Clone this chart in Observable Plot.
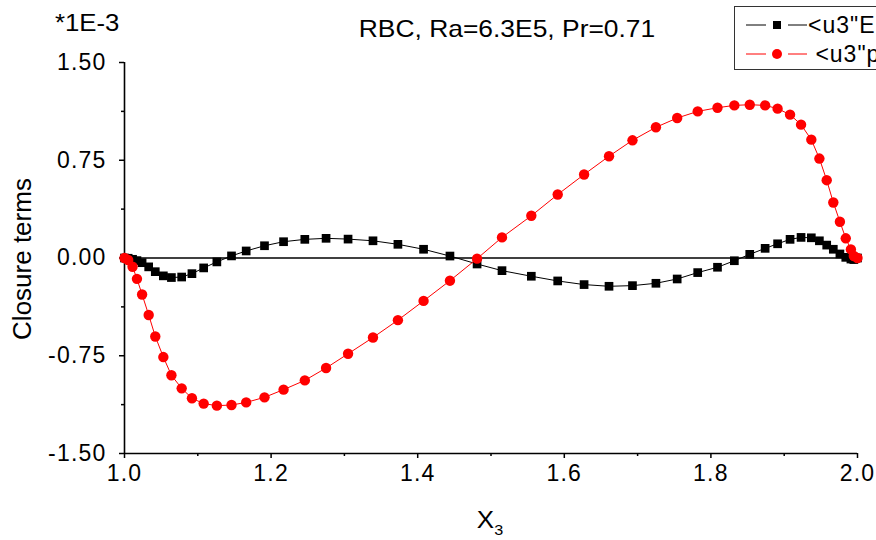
<!DOCTYPE html>
<html><head><meta charset="utf-8">
<script src="https://cdn.jsdelivr.net/npm/d3@7"></script>
<script src="https://cdn.jsdelivr.net/npm/@observablehq/plot@0.6"></script>
<style>
html,body{margin:0;padding:0;background:#fff;}
#wrap{position:relative;width:876px;height:540px;overflow:hidden;font-family:"Liberation Sans",Arial,sans-serif;color:#000;}
#chart{position:absolute;left:0;top:0;}
.ov{position:absolute;white-space:nowrap;line-height:1;}
#legend{position:absolute;left:734px;top:6px;width:220px;height:62px;border:1.5px solid #333;background:#fff;}
</style></head><body>
<div id="wrap">
  <div id="chart"></div>
  <div class="ov" id="mult" style="left:55px;top:12px;font-size:23px;transform-origin:left center;transform:scaleX(1.12);">*1E-3</div>
  <div class="ov" id="title" style="left:507px;top:17px;font-size:24px;transform:translateX(-50%) scaleX(1.1);"></div>
  <div class="ov" id="xlab" style="left:490px;top:508px;font-size:24px;transform:translateX(-50%) scaleX(1.08);">X<sub style="font-size:15px;vertical-align:-7px;">3</sub></div>
  <div class="ov" id="ylab" style="left:22px;top:259px;font-size:26px;transform:translate(-50%,-50%) rotate(-90deg);">Closure terms</div>
  <div id="legend"></div>
</div>
<script>
const chartTitle = "RBC, Ra=6.3E5, Pr=0.71";
const seriesNames = ['<u3"E', ' <u3"p'];
const seriesColors = ["#000000", "#ff0000"];

const x3 = [1.000, 1.005, 1.011, 1.017, 1.024, 1.033, 1.042, 1.053, 1.064, 1.078,
            1.092, 1.108, 1.126, 1.146, 1.166, 1.191, 1.217, 1.246, 1.275, 1.305,
            1.339, 1.373, 1.408, 1.444, 1.481, 1.515, 1.555, 1.591, 1.627, 1.661,
            1.693, 1.725, 1.754, 1.782, 1.809, 1.832, 1.853, 1.874, 1.891, 1.908,
            1.923, 1.937, 1.948, 1.958, 1.967, 1.976, 1.984, 1.991, 1.995, 2.000];

const eTerm = [0, -0.002, -0.010, -0.020, -0.036, -0.068, -0.105, -0.137, -0.150, -0.146,
               -0.120, -0.076, -0.030, 0.016, 0.054, 0.094, 0.125, 0.143, 0.151, 0.145,
               0.132, 0.105, 0.067, 0.015, -0.046, -0.097, -0.140, -0.176, -0.204, -0.217,
               -0.212, -0.194, -0.161, -0.112, -0.071, -0.021, 0.028, 0.074, 0.109, 0.143,
               0.158, 0.155, 0.132, 0.099, 0.067, 0.031, 0.005, -0.008, -0.012, 0];

const pTerm = [0, -0.015, -0.067, -0.160, -0.280, -0.437, -0.602, -0.760, -0.900, -1.000,
               -1.076, -1.117, -1.133, -1.128, -1.108, -1.069, -1.010, -0.939, -0.844, -0.735,
               -0.610, -0.477, -0.329, -0.174, -0.005, 0.158, 0.324, 0.487, 0.641, 0.781,
               0.903, 1.003, 1.074, 1.125, 1.153, 1.171, 1.176, 1.171, 1.146, 1.100,
               1.023, 0.908, 0.763, 0.597, 0.426, 0.278, 0.151, 0.066, 0.015, 0];

const yTicks = [-1.5, -0.75, 0, 0.75, 1.5];
const yMinor = [-1.125, -0.375, 0.375, 1.125];
const xTicks = [1.0, 1.2, 1.4, 1.6, 1.8, 2.0];
const xMinor = [1.1, 1.3, 1.5, 1.7, 1.9];

const eData = x3.map((x, i) => ({x, v: eTerm[i]}));
const pData = x3.map((x, i) => ({x, v: pTerm[i]}));

document.getElementById("title").textContent = chartTitle;

const plot = Plot.plot({
  width: 876, height: 540,
  marginLeft: 124, marginRight: 19, marginTop: 62, marginBottom: 87,
  style: {fontFamily: "'Liberation Sans', Arial, sans-serif", background: "transparent", color: "#000", overflow: "visible"},
  x: {domain: [1, 2], axis: null},
  y: {domain: [-1.5, 1.5], axis: null},
  marks: [
    Plot.ruleY([0], {stroke: "#000", strokeWidth: 1.5}),
    Plot.axisX({ticks: xTicks, tickFormat: d => d.toFixed(1), tickSize: 5, tickPadding: 6, fontSize: 23, strokeWidth: 1.5, label: null}),
    Plot.axisX({ticks: xMinor, tickFormat: () => "", tickSize: 3, strokeWidth: 1.5, label: null}),
    Plot.axisY({ticks: yTicks, tickFormat: d => d.toFixed(2), tickSize: 5, tickPadding: 13, fontSize: 23, strokeWidth: 1.5, label: null}),
    Plot.axisY({ticks: yMinor, tickFormat: () => "", tickSize: 3, strokeWidth: 1.5, label: null}),
    Plot.ruleY([-1.5], {stroke: "#000", strokeWidth: 1.6}),
    Plot.ruleX([1], {stroke: "#000", strokeWidth: 1.6}),
    Plot.line(eData, {x: "x", y: "v", stroke: seriesColors[0], strokeWidth: 1}),
    Plot.dot(eData, {x: "x", y: "v", symbol: "square", r: 4.9, fill: seriesColors[0], stroke: "none"}),
    Plot.line(pData, {x: "x", y: "v", stroke: seriesColors[1], strokeWidth: 1}),
    Plot.dot(pData, {x: "x", y: "v", symbol: "circle", r: 5.2, fill: seriesColors[1], stroke: "none"})
  ]
});
d3.select(plot).selectAll("text").attr("letter-spacing", "1.2px");
document.getElementById("chart").appendChild(plot);

// legend
const lg = d3.select("#legend").append("svg").attr("width", 220).attr("height", 62)
  .style("font-family", "'Liberation Sans', Arial, sans-serif");
const rows = [{y: 18, tx: 73}, {y: 47, tx: 73}];
seriesNames.forEach((name, i) => {
  const g = lg.append("g");
  const c = seriesColors[i];
  g.append("line").attr("x1", 11).attr("x2", 31).attr("y1", rows[i].y).attr("y2", rows[i].y).attr("stroke", c).attr("stroke-width", 1);
  g.append("line").attr("x1", 53).attr("x2", 72).attr("y1", rows[i].y).attr("y2", rows[i].y).attr("stroke", c).attr("stroke-width", 1);
  if (i === 0) g.append("rect").attr("x", 38).attr("y", rows[i].y - 4).attr("width", 8).attr("height", 8).attr("fill", c);
  else g.append("circle").attr("cx", 42).attr("cy", rows[i].y).attr("r", 5).attr("fill", c);
  g.append("text").attr("x", rows[i].tx).attr("y", rows[i].y).attr("dy", "0.35em").attr("font-size", 23)
    .attr("letter-spacing", "1px").attr("xml:space", "preserve").style("white-space", "pre").text(name);
});
</script>
</body></html>
